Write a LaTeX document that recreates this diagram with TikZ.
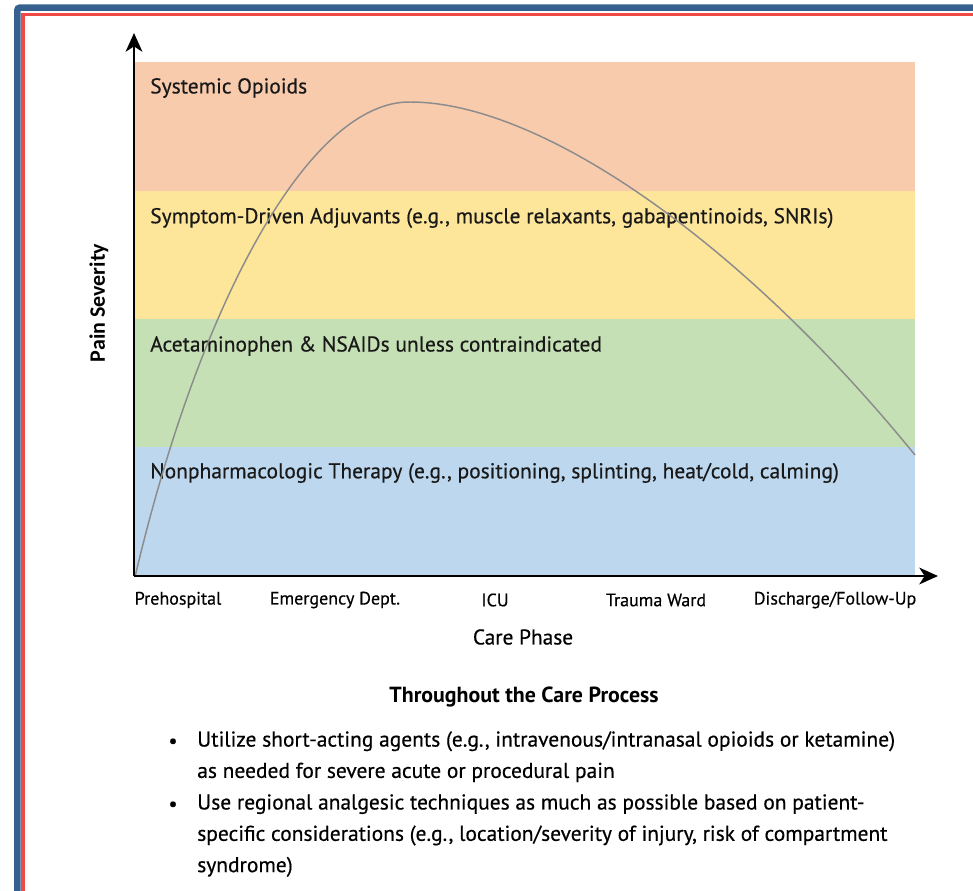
\documentclass[tikz,border=0pt]{standalone}
\usepackage{fontspec}
\setmainfont{PT Sans}[UprightFeatures={FakeBold=0.45}]
\newfontfamily\axisfont{Carlito}
\usetikzlibrary{arrows.meta}
\definecolor{frameblue}{HTML}{36618F}
\definecolor{framered}{HTML}{EF4B44}
\definecolor{bandorange}{HTML}{F8CBAD}
\definecolor{bandyellow}{HTML}{FDE699}
\definecolor{bandgreen}{HTML}{C5E0B4}
\definecolor{bandblue}{HTML}{BDD7EE}
\definecolor{curvegray}{HTML}{8C8C8C}
\tikzset{
  bandlabel/.style={anchor=west, inner sep=0pt, font=\fontsize{16.1}{18}\selectfont, text=black!90},
  ticklabel/.style={anchor=center, inner sep=0pt, font=\fontsize{13.5}{15}\selectfont},
  axisline/.style={line width=1.9pt, -{Stealth[length=14pt, width=12.5pt, inset=4pt]}},
  painline/.style={line width=1.1pt, curvegray},
  bulletnode/.style={anchor=north west, inner sep=0pt, align=left, font=\fontsize{16.1}{23.5}\selectfont},
}
\begin{document}
\begin{tikzpicture}[x=0.75pt, y=-0.75pt]
\useasboundingbox (0,0) rectangle (973,890);
\clip (0,0) rectangle (973,890);
% frame
\draw[frameblue, line width=4.9pt, rounded corners=2pt] (17.3,7.6) rectangle (1010,930);
\draw[framered, line width=2.5pt] (22.9,14.3) rectangle (1000,920);
% bands
\fill[bandorange] (134,62) rectangle (915,191);
\fill[bandyellow] (134,191) rectangle (915,319);
\fill[bandgreen] (134,319) rectangle (915,447);
\fill[bandblue] (134,447) rectangle (915,577);
% band labels
\node[bandlabel] (opioids) at (150,88) {Systemic Opioids};
\node[bandlabel] (adjuvants) at (150,218) {Symptom-Driven Adjuvants (e.g., muscle relaxants, gabapentinoids, SNRIs)};
\node[bandlabel] (nsaids) at (150,346) {Acetaminophen \& NSAIDs unless contraindicated};
\node[bandlabel] (nonpharm) at (150,473) {Nonpharmacologic Therapy (e.g., positioning, splinting, heat/cold, calming)};
% curve
\coordinate (cstart) at (135,577);
\coordinate (cpeak) at (410,102);
\coordinate (cend) at (915,455);
\draw[painline] (cstart) .. controls (200,300) and (310,101) .. (cpeak)
  .. controls (540,102) and (740,240) .. (cend);
% axes
\coordinate (origin) at (134,576);
\coordinate (ytip) at (134,33);
\coordinate (xtip) at (938,576);
\draw[axisline] (origin) -- (ytip);
\draw[axisline] (origin) -- (xtip);
% axis labels
\node[rotate=90, inner sep=0pt, font=\axisfont\bfseries\fontsize{16.5}{18}\selectfont] (ylabel) at (99,303) {Pain Severity};
\node[ticklabel] (t1) at (178,600) {Prehospital};
\node[ticklabel] (t2) at (335,600) {Emergency Dept.};
\node[ticklabel] (t3) at (495,600) {ICU};
\node[ticklabel] (t4) at (656,600) {Trauma Ward};
\node[ticklabel] (t5) at (835,600) {Discharge/Follow-Up};
\node[inner sep=0pt, font=\fontsize{16}{18}\selectfont] (xlabel) at (523,637) {Care Phase};
% bottom text
\node[inner sep=0pt, font=\bfseries\fontsize{16.4}{18}\selectfont] (title) at (524,697) {Throughout the Care Process};
\node[inner sep=0pt, font=\fontsize{15}{16}\selectfont] (b1) at (173,743) {\textbullet};
\node[bulletnode] (item1) at (197,731) {Utilize short-acting agents (e.g., intravenous/intranasal opioids or ketamine)\\as needed for severe acute or procedural pain};
\node[inner sep=0pt, font=\fontsize{15}{16}\selectfont] (b2) at (173,806) {\textbullet};
\node[bulletnode] (item2) at (197,794) {Use regional analgesic techniques as much as possible based on patient-\\specific considerations (e.g., location/severity of injury, risk of compartment\\syndrome)};
\end{tikzpicture}
\end{document}
